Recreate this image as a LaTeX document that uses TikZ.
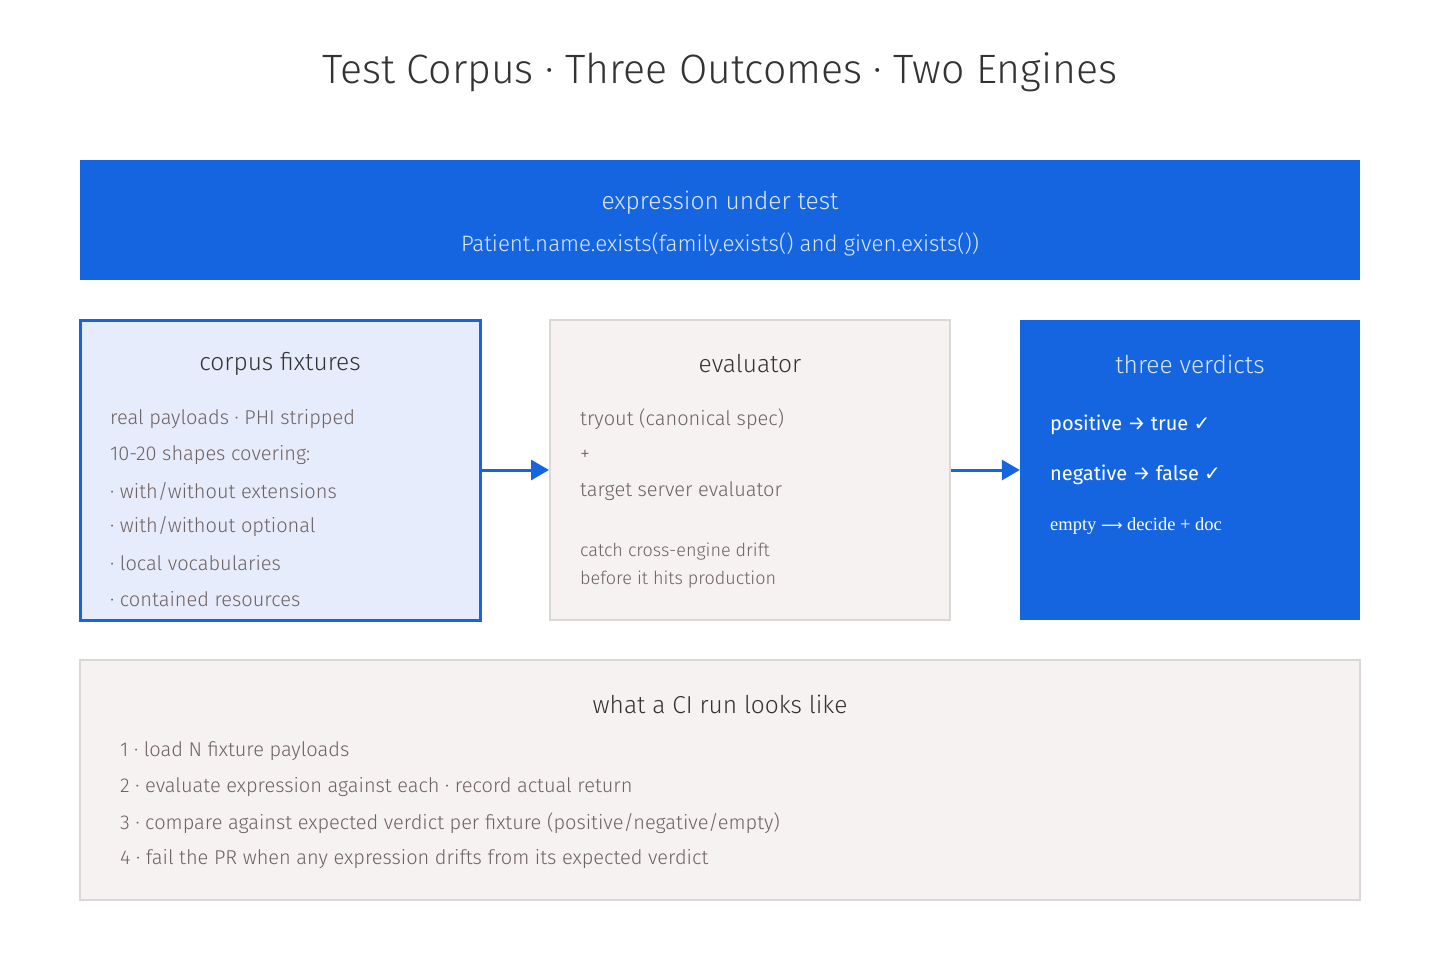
\documentclass[tikz,border=0pt]{standalone}
\usepackage{fontspec}
\setmainfont{Fira Sans}[UprightFont={* Light}]
\newfontfamily\regfont{Fira Sans}
\newfontfamily\serffont{Liberation Serif}
\newfontfamily\symfont{DejaVu Sans}
\usetikzlibrary{arrows.meta}
\definecolor{bblue}{HTML}{1565E0}
\definecolor{lblue}{HTML}{E6ECFC}
\definecolor{pinkbg}{HTML}{F7F2F2}
\definecolor{pinkbd}{HTML}{DCD6D6}
\definecolor{headc}{HTML}{333333}
\definecolor{bodyc}{HTML}{6E6262}
\definecolor{onblue}{HTML}{DCE7FF}
\begin{document}
\begin{tikzpicture}[x=1pt,y=-1pt,
  boxb/.style={fill=bblue,draw=none},
  boxl/.style={fill=lblue,draw=bblue,line width=3pt},
  boxp/.style={fill=pinkbg,draw=pinkbd,line width=2pt},
  head/.style={font=\fontsize{24.5}{28}\selectfont,text=headc,anchor=center},
  headw/.style={font=\fontsize{24.5}{28}\selectfont,text=onblue,anchor=center},
  body/.style={font=\fontsize{20}{24}\selectfont,text=bodyc,anchor=west,inner sep=0pt},
  small/.style={font=\fontsize{18}{21}\selectfont,text=bodyc,anchor=west,inner sep=0pt},
  bodyw/.style={font=\regfont\fontsize{20}{24}\selectfont,text=white,anchor=west,inner sep=0pt},
  conn/.style={draw=bblue,line width=3pt,-{Triangle[length=18pt,width=20pt]}}]
\useasboundingbox[fill=white] (0,0) rectangle (1440,960);
\node[font=\fontsize{41}{48}\selectfont,text=headc] (title) at (720,72) {Test Corpus · Three Outcomes · Two Engines};
% top box
\path[boxb] (80,160) rectangle (1360,280);
\node[headw] (exph) at (720,203) {expression under test};
\node[font=\fontsize{22.3}{26}\selectfont,text=onblue] (expr) at (720,244) {Patient.name.exists(family.exists() and given.exists())};
% corpus
\node[boxl,minimum width=400pt,minimum height=300pt,inner sep=0pt] (corpus) at (280,470) {};
\node[head] (ch) at (280,364) {corpus fixtures};
\node[body] at (110,419) {real payloads · PHI stripped};
\node[body] at (110,455) {10-20 shapes covering:};
\node[body] at (110,491) {· with/without extensions};
\node[body] at (110,527) {· with/without optional};
\node[body] at (110,563) {· local vocabularies};
\node[body] at (110,599) {· contained resources};
% evaluator
\node[boxp,minimum width=400pt,minimum height=300pt,inner sep=0pt] (eval) at (750,470) {};
\node[head] (eh) at (750,364) {evaluator};
\node[body] at (580,419) {tryout (canonical spec)};
\node[body] at (580,455) {+};
\node[body] at (580,491) {target server evaluator};
\node[small] at (580,552) {catch cross-engine drift};
\node[small] at (580,580) {before it hits production};
% verdicts
\node[boxb,minimum width=340pt,minimum height=300pt,inner sep=0pt] (verd) at (1190,470) {};
\node[headw] (vh) at (1190,364) {three verdicts};
\node[bodyw] at (1050,425) {positive → true {\symfont\fontsize{20}{22}\selectfont ✓}};
\node[bodyw] at (1050,475) {negative → false {\symfont\fontsize{20}{22}\selectfont ✓}};
\node[font=\serffont\fontsize{18.5}{22}\selectfont,text=white,anchor=west,inner sep=0pt] at (1050,526) {empty {\symfont\fontsize{15}{18}\selectfont ⟶} decide + doc};
% arrows
\draw[conn] (corpus.east) -- (eval.west);
\draw[conn] (eval.east) -- (verd.west);
% bottom
\node[boxp,minimum width=1280pt,minimum height=240pt,inner sep=0pt] (ci) at (720,780) {};
\node[head] (cih) at (720,704) {what a CI run looks like};
\node[body] at (120,751) {1 · load N fixture payloads};
\node[body] at (120,787) {2 · evaluate expression against each · record actual return};
\node[body] at (120,823) {3 · compare against expected verdict per fixture (positive/negative/empty)};
\node[body] at (120,859) {4 · fail the PR when any expression drifts from its expected verdict};
\end{tikzpicture}
\end{document}
